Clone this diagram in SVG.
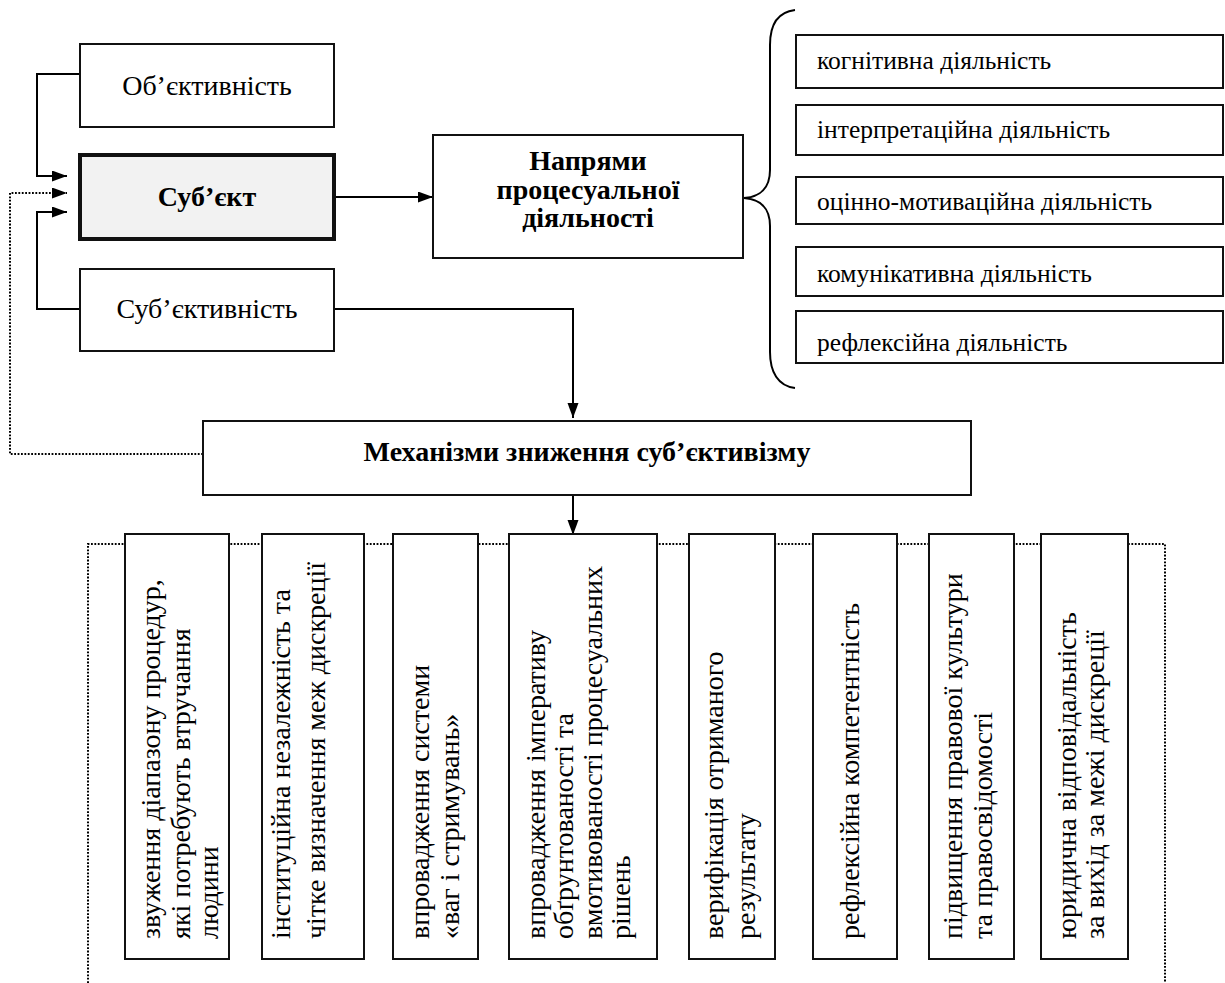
<svg xmlns="http://www.w3.org/2000/svg" width="1225" height="983" viewBox="0 0 1225 983" font-family="'Liberation Serif', 'Times New Roman', Times, serif">
<style>
.box{fill:#fff;stroke:#111;stroke-width:2}
.main{fill:#f2f2f2;stroke:#111;stroke-width:4}
.t{font-family:'Liberation Serif', 'Times New Roman', Times, serif;font-size:28px;fill:#000}
.b{font-weight:bold;text-anchor:middle}
.c{text-anchor:middle}
.s{font-size:25.5px}
.ln{fill:none;stroke:#000;stroke-width:2}
.dot{fill:none;stroke:#000;stroke-width:2;stroke-dasharray:1.8 1.6}
</style>
<defs>
<marker id="ah" markerUnits="userSpaceOnUse" markerWidth="16" markerHeight="12" refX="15" refY="5.5" orient="auto">
<path d="M0,0 L15,5.5 L0,11 z" fill="#000"/>
</marker>
</defs>
<g id="connectors">
<path class="ln" d="M80,74 H37 V176 H67" marker-end="url(#ah)"/>
<path class="ln" d="M80,309 H37 V212 H67" marker-end="url(#ah)"/>
<path class="dot" d="M203,454 H10 V193 H67" marker-end="url(#ah)"/>
<path class="ln" d="M334,197 H433" marker-end="url(#ah)"/>
<path class="ln" d="M334,309 H573 V418" marker-end="url(#ah)"/>
<path class="ln" d="M573,495 V535" marker-end="url(#ah)"/>
<path class="ln" d="M795,10 C778,12 770,25 770,45 L770,170 C770,188 760,197 744,198 C760,199 770,208 770,226 L770,352 C770,372 778,386 795,388"/>
</g>
<g id="objectivity">
<rect class="box" x="80" y="44" width="254" height="83"/>
<text class="t c" x="207" y="95">Об’єктивність</text>
</g>
<g id="subject">
<rect class="main" x="80" y="155" width="254" height="84"/>
<text class="t b" x="207" y="206">Суб’єкт</text>
</g>
<g id="subjectivity">
<rect class="box" x="80" y="269" width="254" height="82"/>
<text class="t c" x="207" y="318">Суб’єктивність</text>
</g>
<g id="directions">
<rect class="box" x="433" y="135" width="310" height="123"/>
<text class="t b" x="588" y="170">Напрями</text>
<text class="t b" x="588" y="199">процесуальної</text>
<text class="t b" x="588" y="227">діяльності</text>
</g>
<g id="act1"><rect class="box" x="796" y="35" width="427" height="53"/><text class="t s" x="817" y="69">когнітивна діяльність</text></g>
<g id="act2"><rect class="box" x="796" y="105" width="427" height="50"/><text class="t s" x="817" y="138">інтерпретаційна діяльність</text></g>
<g id="act3"><rect class="box" x="796" y="177" width="427" height="47"/><text class="t s" x="817" y="210">оцінно-мотиваційна діяльність</text></g>
<g id="act4"><rect class="box" x="796" y="247" width="427" height="49"/><text class="t s" x="817" y="282">комунікативна діяльність</text></g>
<g id="act5"><rect class="box" x="796" y="311" width="427" height="52"/><text class="t s" x="817" y="351">рефлексійна діяльність</text></g>
<g id="mechanisms">
<rect class="box" x="203" y="421" width="768" height="74"/>
<text class="t b" x="587" y="461">Механізми зниження суб’єктивізму</text>
</g>
<g id="container">
<path class="dot" d="M88,983 V544 H1165 V983"/>
</g>
<g id="m1"><rect class="box" x="125" y="534" width="104" height="425"/>
<text class="t" transform="translate(160,939) rotate(-90)">звуження діапазону процедур,</text>
<text class="t" transform="translate(190,939) rotate(-90)">які потребують втручання</text>
<text class="t" transform="translate(218,939) rotate(-90)">людини</text></g>
<g id="m2"><rect class="box" x="262" y="534" width="102" height="425"/>
<text class="t" transform="translate(290,939) rotate(-90)">інституційна незалежність та</text>
<text class="t" transform="translate(325,939) rotate(-90)">чітке визначення меж дискреції</text></g>
<g id="m3"><rect class="box" x="393" y="534" width="85" height="425"/>
<text class="t" transform="translate(429,939) rotate(-90)">впровадження системи</text>
<text class="t" transform="translate(459,939) rotate(-90)">«ваг і стримувань»</text></g>
<g id="m4"><rect class="box" x="509" y="534" width="148" height="425"/>
<text class="t" transform="translate(545,939) rotate(-90)">впровадження імперативу</text>
<text class="t" transform="translate(573,939) rotate(-90)">обґрунтованості та</text>
<text class="t" transform="translate(602,939) rotate(-90)">вмотивованості процесуальних</text>
<text class="t" transform="translate(630,939) rotate(-90)">рішень</text></g>
<g id="m5"><rect class="box" x="689" y="534" width="86" height="425"/>
<text class="t" transform="translate(723,939) rotate(-90)">верифікація отриманого</text>
<text class="t" transform="translate(755,939) rotate(-90)">результату</text></g>
<g id="m6"><rect class="box" x="813" y="534" width="84" height="425"/>
<text class="t" transform="translate(859,939) rotate(-90)">рефлексійна компетентність</text></g>
<g id="m7"><rect class="box" x="929" y="534" width="85" height="425"/>
<text class="t" transform="translate(962,939) rotate(-90)">підвищення правової культури</text>
<text class="t" transform="translate(992,939) rotate(-90)">та правосвідомості</text></g>
<g id="m8"><rect class="box" x="1041" y="534" width="87" height="425"/>
<text class="t" transform="translate(1076,939) rotate(-90)">юридична відповідальність</text>
<text class="t" transform="translate(1104,939) rotate(-90)">за вихід за межі дискреції</text></g>
</svg>
